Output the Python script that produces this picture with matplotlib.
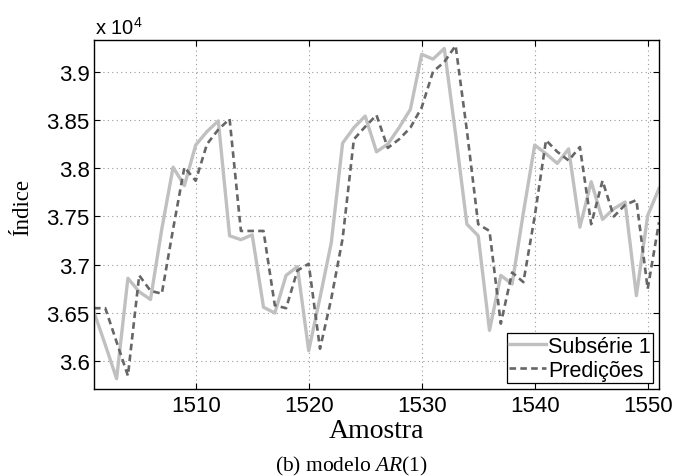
import numpy as np
import matplotlib
matplotlib.use('Agg')
import matplotlib.pyplot as plt

plt.rcParams['mathtext.fontset'] = 'custom'
plt.rcParams['mathtext.rm'] = 'Liberation Sans'
plt.rcParams['mathtext.it'] = 'Liberation Serif:italic'

# Amostras 1501..1551
amostras = np.arange(1501, 1552)

subserie = [3.651, 3.617, 3.582, 3.686, 3.672, 3.664, 3.737, 3.801, 3.782, 3.824,
            3.838, 3.849, 3.730, 3.726, 3.731, 3.656, 3.650, 3.689, 3.698, 3.611,
            3.666, 3.723, 3.826, 3.842, 3.854, 3.817, 3.825, 3.842, 3.861, 3.918,
            3.913, 3.924, 3.835, 3.742, 3.730, 3.632, 3.689, 3.680, 3.754, 3.824,
            3.815, 3.805, 3.820, 3.739, 3.786, 3.747, 3.758, 3.765, 3.668, 3.751,
            3.779]

predicoes = [3.655, 3.655, 3.620, 3.585, 3.689, 3.673, 3.670, 3.737, 3.801, 3.787,
             3.825, 3.840, 3.851, 3.735, 3.735, 3.735, 3.658, 3.655, 3.694, 3.701,
             3.613, 3.665, 3.727, 3.830, 3.843, 3.855, 3.821, 3.830, 3.842, 3.863,
             3.900, 3.910, 3.927, 3.839, 3.742, 3.735, 3.639, 3.692, 3.682, 3.750,
             3.829, 3.817, 3.808, 3.822, 3.742, 3.787, 3.750, 3.762, 3.767, 3.675,
             3.744]

W, H = 688, 477
fig = plt.figure(figsize=(W / 100, H / 100), dpi=100)
ax = fig.add_axes([94 / W, 1 - 390 / H, (659 - 94) / W, (390 - 41) / H])

ax.plot(amostras, subserie, color='#c0c0c0', linewidth=2.4, label='Subsérie 1')
ax.plot(amostras, predicoes, color='#666666', linewidth=1.9, linestyle=(0, (2.5, 1.6)),
        label='Predições')

ax.set_xlim(1501, 1551)
ax.set_ylim(3.5713, 3.9328)
ax.set_xticks([1510, 1520, 1530, 1540, 1550])
ax.set_yticks([3.6, 3.65, 3.7, 3.75, 3.8, 3.85, 3.9])
ax.set_yticklabels(['3.6', '3.65', '3.7', '3.75', '3.8', '3.85', '3.9'])

fonte_tick = 'Liberation Sans'
for lbl in ax.get_xticklabels() + ax.get_yticklabels():
    lbl.set_family(fonte_tick)
    lbl.set_fontsize(16)

ax.tick_params(direction='in', length=4, width=0.8, top=True, right=True)
ax.tick_params(axis='x', pad=4)
ax.tick_params(axis='y', pad=3)
ax.grid(True, color='#999999', linestyle=(0, (1, 3)), linewidth=0.8)
for s in ax.spines.values():
    s.set_linewidth(1.0)

# rotulos dos eixos
fig.text(376 / W, 1 - 438 / H, 'Amostra', family='Liberation Serif', fontsize=20,
         ha='center', va='baseline')
fig.text(23 / W, 1 - 207 / H, 'Índice', family='Liberation Serif', fontsize=16.5,
         ha='center', va='center', rotation=90)

fig.text(95 / W, 1 - 35 / H, r'x 10$^{4}$', family=fonte_tick,
         fontsize=14.5, ha='left', va='baseline')

leg = ax.legend(loc='lower right', prop={'family': fonte_tick, 'size': 15.5},
                fancybox=False, edgecolor='black', framealpha=1, borderpad=0.1,
                handlelength=1.7, handletextpad=0.1, labelspacing=0.15,
                borderaxespad=0.28)
leg.get_frame().set_linewidth(0.9)

fig.text(351 / W, 1 - 471 / H, '(b) modelo $\\mathit{AR}$(1)', family='Liberation Serif',
         fontsize=15.5, ha='center', va='baseline')

fig.savefig('out.png', dpi=100)
